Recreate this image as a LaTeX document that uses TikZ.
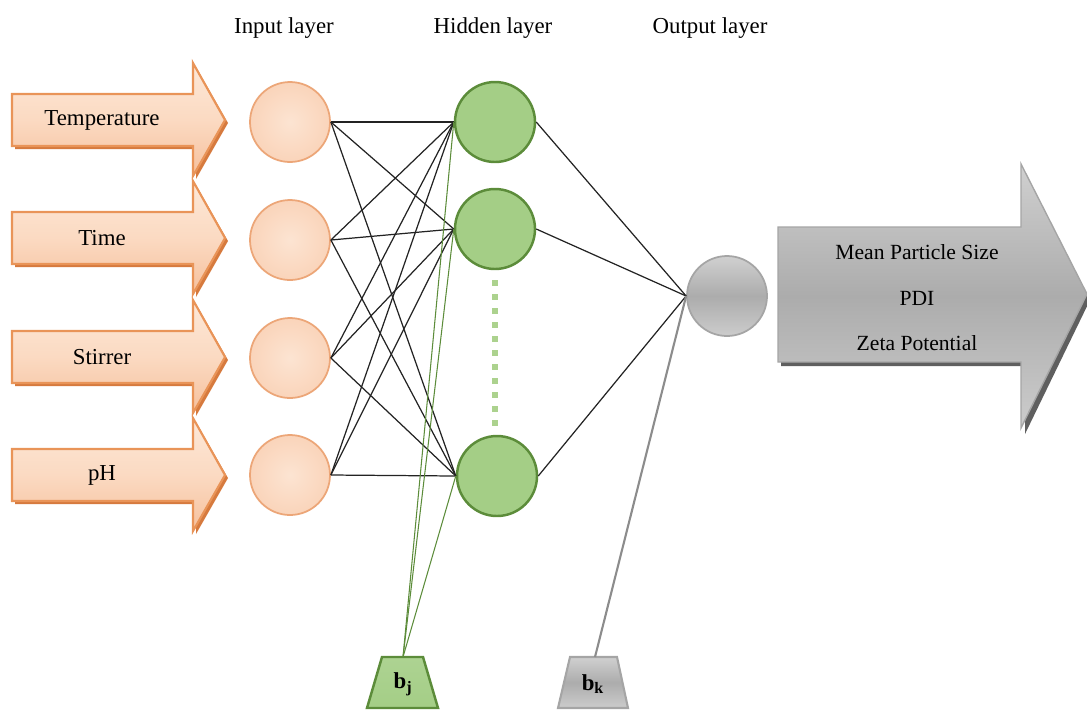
\documentclass[tikz,border=0pt]{standalone}
\usepackage{fontspec}
\setmainfont{Liberation Serif}
\usetikzlibrary{calc}
\definecolor{peachTop}{RGB}{253,232,216}
\definecolor{peachMid}{RGB}{251,218,194}
\definecolor{peachBot}{RGB}{246,192,156}
\definecolor{orangeLine}{RGB}{233,148,88}
\definecolor{orangeShadow}{RGB}{214,122,62}
\definecolor{inFill}{RGB}{250,212,186}
\definecolor{inFillL}{RGB}{252,228,210}
\definecolor{inLine}{RGB}{236,166,120}
\definecolor{hidFill}{RGB}{164,206,134}
\definecolor{hidLine}{RGB}{92,140,58}
\definecolor{dotGreen}{RGB}{172,210,142}
\definecolor{grayTop}{RGB}{208,208,208}
\definecolor{grayMid}{RGB}{172,172,172}
\definecolor{grayBot}{RGB}{204,204,204}
\definecolor{grayLine}{RGB}{165,165,165}
\definecolor{grayShadow}{RGB}{95,95,95}
\definecolor{linkBlack}{RGB}{35,35,35}
\tikzset{
  lbl/.style={font=\fontsize{13}{15}\selectfont, inner sep=0pt},
  outlbl/.style={font=\fontsize{12.3}{14}\selectfont, inner sep=0pt},
  inarrow/.style={draw=orangeLine, line width=1.2pt, top color=peachTop, bottom color=peachBot, middle color=peachMid},
  inshadow/.style={fill=orangeShadow},
  innode/.style={circle, draw=inLine, line width=1pt, inner color=inFillL, outer color=inFill, minimum size=80*0.02cm, inner sep=0pt},
  hidnode/.style={circle, draw=hidLine, line width=1.4pt, fill=hidFill, minimum size=80*0.02cm, inner sep=0pt},
  outnode/.style={circle, draw=grayLine, line width=1pt, top color=grayTop, bottom color=grayBot, middle color=grayMid, minimum size=80*0.02cm, inner sep=0pt},
  link/.style={draw=linkBlack, line width=0.7pt},
  biaslink/.style={draw=hidLine, line width=0.6pt},
  graylink/.style={draw=grayLine!85!black, line width=1.2pt},
  outarrow/.style={draw=grayLine, line width=0.8pt, top color=grayTop, bottom color=grayBot, middle color=grayMid},
}
\begin{document}
\begin{tikzpicture}[x=0.02cm, y=-0.02cm]
\useasboundingbox (0,0) rectangle (1087,711);

% layer titles
\node[lbl] (tin) at (284,28) {Input layer};
\node[lbl] (thid) at (493,28) {Hidden layer};
\node[lbl] (tout) at (710,28) {Output layer};

% input arrows
\foreach \c/\t/\n in {120/Temperature/aT, 238/Time/aTi, 357/Stirrer/aS, 475/pH/ap}{
  \fill[inshadow] (15,\c-22) -- (196,\c-22) -- (196,\c-53) -- (228,\c+3) -- (196,\c+59) -- (196,\c+29) -- (15,\c+29) -- cycle;
  \path[inarrow] (12,\c-26) -- (193,\c-26) -- (193,\c-57) -- (225,\c) -- (193,\c+56) -- (193,\c+26) -- (12,\c+26) -- cycle;
  \node[lbl] (\n) at (102,\c) {\t};
}

% input nodes
\node[innode] (i1) at (290,122) {};
\node[innode] (i2) at (290,240) {};
\node[innode] (i3) at (290,358) {};
\node[innode] (i4) at (290,475) {};

% hidden nodes
\node[hidnode] (h1) at (495,122) {};
\node[hidnode] (h2) at (495,229) {};
\node[hidnode] (h3) at (497,476) {};
\coordinate (dtop) at (495,280);
\coordinate (dbot) at (495,426);
\draw[dotGreen, line width=6*0.02cm, dash pattern=on 6*0.02cm off 8*0.02cm] (dtop) -- (dbot);

% output node
\node[outnode] (o) at (727,296) {};

% input -> hidden
\foreach \i in {i1,i2,i3,i4}{
  \foreach \h in {h1,h2,h3}{
    \draw[link] (\i.east) -- (\h.west);
  }
}
% hidden -> output
\foreach \h in {h1,h2,h3}{
  \draw[link] (\h.east) -- (o.west);
}

% bias j
\path[draw=hidLine, line width=1.4pt, top color=hidFill!90!white, bottom color=hidFill] (382,657) -- (423,657) -- (438,708) -- (367,708) -- cycle;
\coordinate (bjtop) at (403,657);
\node[lbl, font=\fontsize{13}{15}\selectfont\bfseries] (bj) at (403,684) {b$_{\mathbf{j}}$};
\foreach \h in {h1,h2,h3}{
  \draw[biaslink] (bjtop) -- (\h.west);
}

% bias k
\path[draw=grayLine, line width=1.2pt, top color=grayTop, bottom color=grayBot, middle color=grayMid] (570,657) -- (617,657) -- (628,708) -- (558,708) -- cycle;
\coordinate (bktop) at (595,657);
\node[lbl, font=\fontsize{13}{15}\selectfont\bfseries] (bk) at (593,684) {b$_{\mathbf{k}}$};
\draw[graylink] (bktop) -- (o.west);

% output arrow
\fill[grayShadow] (781,231) -- (1025,231) -- (1025,231) -- (1091,298) -- (1025,434) -- (1025,366) -- (781,366) -- cycle;
\path[outarrow] (778,227) -- (1021,227) -- (1021,164) -- (1087,294) -- (1021,428) -- (1021,362) -- (778,362) -- cycle;
\node[outlbl] (m1) at (917,252) {Mean Particle Size};
\node[outlbl] (m2) at (917,298) {PDI};
\node[outlbl] (m3) at (917,343) {Zeta Potential};
\end{tikzpicture}
\end{document}
